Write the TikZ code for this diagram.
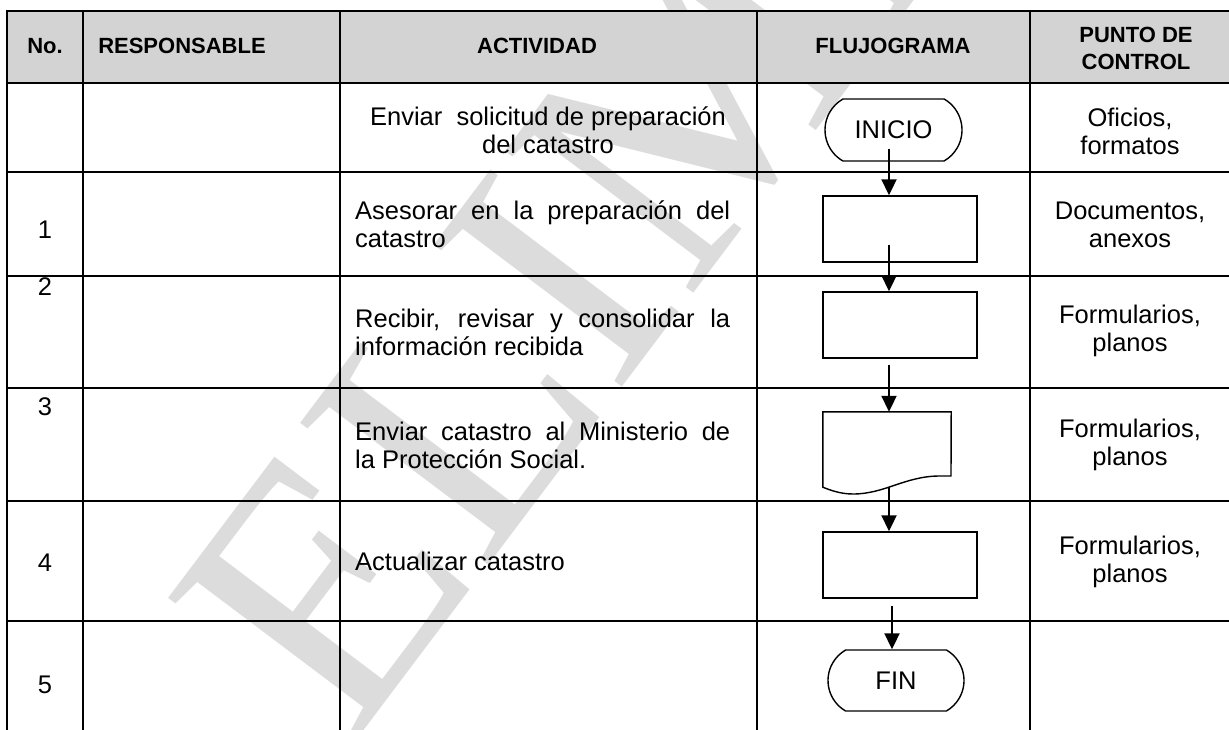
\documentclass[tikz,border=0pt]{standalone}
\usepackage{fontspec}
\setmainfont{Liberation Sans}
\newfontfamily\wmfont{Liberation Serif}
\usepackage{tikz}
\usetikzlibrary{arrows.meta,positioning,calc,shapes.misc}
\definecolor{hdrgray}{HTML}{D3D3D3}
\definecolor{wmgray}{HTML}{DCDCDC}
\newcommand{\actline}[1]{\makebox[375pt][s]{#1}}
\tikzset{
    tabline/.style={draw=black,line width=2.3pt,line cap=rect},
    hdrtext/.style={font=\bfseries\fontsize{22}{27}\selectfont,align=center,inner sep=0pt},
    celltext/.style={font=\fontsize{25.5}{28}\selectfont,align=center,inner sep=0pt},
    acttext/.style={celltext,align=left,anchor=west},
    termnode/.style={draw=black,rounded rectangle,rounded rectangle arc length=120,
      line width=1.4pt,minimum width=137pt,minimum height=62pt,inner sep=0pt,
      font=\fontsize{25.5}{28}\selectfont},
    procnode/.style={draw=black,rectangle,line width=1.4pt,
      minimum width=154pt,minimum height=66pt,inner sep=0pt},
    flowarrow/.style={-{Triangle[length=16pt,width=15pt]},draw=black,line width=2pt},
    wmark/.style={font=\wmfont\fontsize{360}{360}\selectfont,text=wmgray,inner sep=0pt}
}

\begin{document}
\begin{tikzpicture}[x=1pt,y=-1pt]
  \useasboundingbox (0,0) rectangle (1229,730);
  % watermark behind the table
  \node[wmark,rotate=53,anchor=base west] (wm) at (350,749) {ELIMINADO};
  % grid
  \fill[hdrgray] (7,11) rectangle (1232,83);
  \foreach \y in {11,83,172,276,388,501,621}
    \draw[tabline] (7,\y) -- (1232,\y);
  \foreach \x in {7,83,340,757,1030,1232}
    \draw[tabline] (\x,11) -- (\x,732);
  % header
  \node[hdrtext] (hno) at (45,46) {No.};
  \node[hdrtext] (hresp) at (182,46) {RESPONSABLE};
  \node[hdrtext] (hact) at (537,46) {ACTIVIDAD};
  \node[hdrtext] (hflujo) at (893,46) {FLUJOGRAMA};
  \node[hdrtext] (hpunto) at (1136,48) {PUNTO DE\\CONTROL};
  % numbers
  \node[celltext] (n1) at (45,230) {1};
  \node[celltext] (n2) at (45,287) {2};
  \node[celltext] (n3) at (45,407) {3};
  \node[celltext] (n4) at (45,563) {4};
  \node[celltext] (n5) at (45,685) {5};
  % activities
  \node[celltext] (a0) at (548,130) {Enviar\ \ solicitud de preparación\\del catastro};
  \node[acttext] (a1) at (355,224) {\actline{Asesorar en la preparación del}\\catastro};
  \node[acttext] (a2) at (355,332) {\actline{Recibir, revisar y consolidar la}\\información recibida};
  \node[acttext] (a3) at (355,445) {\actline{Enviar catastro al Ministerio de}\\la Protección Social.};
  \node[acttext] (a4) at (355,561) {Actualizar catastro};
  % control points
  \node[celltext] (c0) at (1130,131) {Oficios,\\formatos};
  \node[celltext] (c1) at (1130,225) {Documentos,\\anexos};
  \node[celltext] (c2) at (1130,331) {Formularios,\\planos};
  \node[celltext] (c3) at (1130,445) {Formularios,\\planos};
  \node[celltext] (c4) at (1130,562) {Formularios,\\planos};
  % flowchart
  \coordinate (ax) at (889,0);
  \coordinate (bx) at (892,0);
  \node[termnode] (ini) at (893.5,130) {INICIO};
  \node[procnode] (p1) at (900,229) {};
  \node[procnode] (p2) at (900,325) {};
  \node[minimum width=128pt,minimum height=75pt,inner sep=0pt] (doc) at (887,449.5) {};
  \draw[line width=1.4pt] (doc.south west) -- (doc.north west) -- (doc.north east)
    -- (951,476) -- (940,476) .. controls (905,476) and (885,494) .. (853,494)
    .. controls (840,494) and (830,490) .. (doc.south west) -- cycle;
  \node[procnode] (p4) at (900,565) {};
  \node[termnode,minimum width=136pt,minimum height=61pt] (fin) at (896,680.5) {FIN};
  \draw[flowarrow] ([yshift=13pt]ini.south -| ax) -- (p1.north -| ax);
  \draw[flowarrow] ([yshift=18pt]p1.south -| ax) -- (p2.north -| ax);
  \draw[flowarrow] ([yshift=-6pt]p2.south -| ax) -- (doc.north -| ax);
  \draw[flowarrow] (doc.south -| ax) -- (p4.north -| ax);
  \draw[flowarrow] ([yshift=-7pt]p4.south -| bx) -- (fin.north -| bx);
\end{tikzpicture}
\end{document}
